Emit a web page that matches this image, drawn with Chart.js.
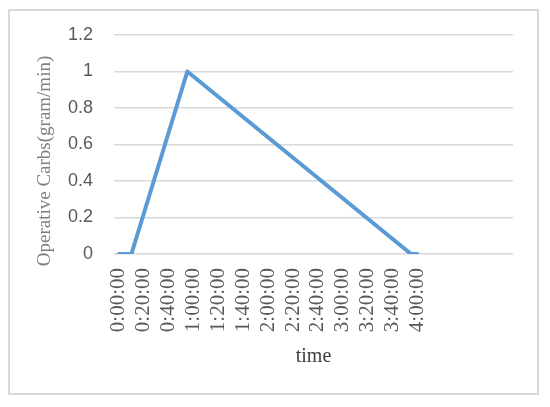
<!DOCTYPE html>
<html>
<head>
<meta charset="utf-8">
<script src="https://cdn.jsdelivr.net/npm/chart.js@4.4.1/dist/chart.umd.min.js"></script>
<style>
  html, body { margin: 0; padding: 0; background: #fff; }
  canvas { display: block; }
</style>
</head>
<body>
<canvas id="grafico" width="550" height="407"></canvas>
<script>
// datos
const minutos = [0, 10, 55, 235, 240];
const carbs = [0, 0, 1, 0, 0];
const marcasX = [0, 20, 40, 60, 80, 100, 120, 140, 160, 180, 200, 220, 240];
const marcasY = [0, 0.2, 0.4, 0.6, 0.8, 1, 1.2];
const tituloY = 'Operative Carbs(gram/min)';

function formatoHora(v) {
  const h = Math.floor(v / 60);
  const m = v % 60;
  return `${h}:${String(m).padStart(2, '0')}:00`;
}

// marco gris y título del eje Y (desplazado hacia abajo como en Excel)
const marco = {
  id: 'marco',
  beforeDraw(chart) {
    const c = chart.ctx;
    c.save();
    c.fillStyle = '#fff';
    c.fillRect(0, 0, chart.width, chart.height);
    c.strokeStyle = '#d9d9d9';
    c.lineWidth = 2;
    c.strokeRect(9, 10, 529, 384);
    c.restore();
  },
  afterDraw(chart) {
    const c = chart.ctx;
    c.save();
    c.translate(45, 161);
    c.rotate(-Math.PI / 2);
    c.font = '19px "Liberation Serif"';
    c.fillStyle = '#7f7f7f';
    c.textAlign = 'center';
    c.textBaseline = 'middle';
    c.fillText(tituloY, 0, 0);
    c.restore();
  }
};

const ctx = document.getElementById('grafico').getContext('2d');
new Chart(ctx, {
  type: 'line',
  data: {
    datasets: [{
      data: minutos.map((m, i) => ({ x: m, y: carbs[i] })),
      borderColor: '#5b9bd5',
      borderWidth: 4,
      pointRadius: 0,
      tension: 0,
      borderJoinStyle: 'round',
      borderCapStyle: 'round'
    }]
  },
  options: {
    responsive: false,
    animation: false,
    devicePixelRatio: 1,
    layout: { padding: { left: 0, right: 37, top: 35, bottom: 0 } },
    plugins: {
      legend: { display: false },
      tooltip: { enabled: false }
    },
    scales: {
      x: {
        type: 'linear',
        min: -4,
        max: 317,
        afterBuildTicks: (scale) => {
          scale.ticks = marcasX.map(v => ({ value: v }));
        },
        afterFit: (scale) => { scale.height = 153; },
        grid: { display: false, drawTicks: false },
        border: { display: false },
        ticks: {
          autoSkip: false,
          minRotation: 90,
          maxRotation: 90,
          padding: 14,
          color: '#595959',
          font: { family: 'Liberation Serif', size: 21 },
          callback: (v) => formatoHora(v)
        },
        title: {
          display: true,
          text: 'time',
          color: '#404040',
          font: { family: 'Liberation Serif', size: 20 },
          padding: { top: 0, bottom: 38 }
        }
      },
      y: {
        min: 0,
        max: 1.2,
        afterBuildTicks: (scale) => {
          scale.ticks = marcasY.map(v => ({ value: v }));
        },
        afterFit: (scale) => { scale.width = 114; },
        grid: { color: '#d9d9d9', lineWidth: 1.5, drawTicks: false },
        border: { display: false },
        ticks: {
          padding: 21,
          color: '#595959',
          font: { family: 'Liberation Sans', size: 18 },
          callback: (v) => String(v)
        }
      }
    }
  },
  plugins: [marco]
});
</script>
</body>
</html>
